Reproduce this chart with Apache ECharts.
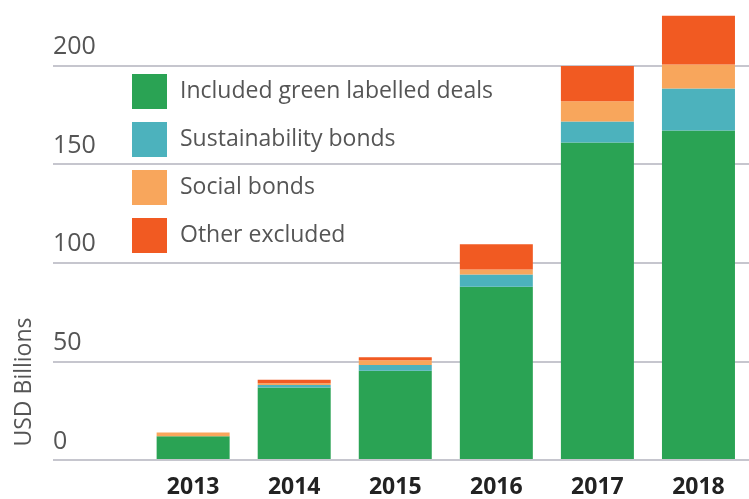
<!DOCTYPE html>
<html>
<head>
<meta charset="utf-8">
<script src="https://cdn.jsdelivr.net/npm/echarts@6/dist/echarts.min.js"></script>
<style>html,body{margin:0;padding:0;background:#fff}#c{width:749px;height:499px}</style>
</head>
<body>
<div id="c"></div>
<script>
var years = ['2013', '2014', '2015', '2016', '2017', '2018'];
var greenDeals = [11.5, 36.4, 44.8, 87.6, 160.9, 167.0];
var sustainability = [0, 1.2, 3.0, 6.2, 10.6, 21.3];
var social = [2.0, 0.9, 2.4, 2.5, 10.3, 12.2];
var otherExcluded = [0, 1.8, 1.5, 12.8, 18.0, 24.8];
var yTicks = [0, 50, 100, 150, 200];
var seriesNames = ['Included green labelled deals', 'Sustainability bonds', 'Social bonds', 'Other excluded'];
var colors = ['#2aa354', '#4cb2bd', '#f8a65c', '#f15a22'];

var chart = echarts.init(document.getElementById('c'));
var font = 'Open Sans';
var yMax = 233.3;
function mk(i, data) {
  return {
    name: seriesNames[i], type: 'bar', stack: 'total', data: data,
    xAxisIndex: 1, yAxisIndex: 1, barWidth: 73,
    itemStyle: { color: colors[i] }
  };
}
chart.setOption({
  animation: false,
  textStyle: { fontFamily: font },
  grid: [
    { left: 53, right: 0, top: 0, height: 460 },
    { left: 142.6, width: 611, top: 0, height: 460 }
  ],
  xAxis: [
    { type: 'value', gridIndex: 0, show: false },
    { type: 'category', gridIndex: 1, data: years,
      axisLine: { show: false }, axisTick: { show: false },
      axisLabel: { color: '#222', fontSize: 23, fontWeight: 'bold', fontFamily: font, margin: 17 } }
  ],
  yAxis: [
    { type: 'value', gridIndex: 0, min: 0, max: yMax, interval: 50,
      axisLine: { show: false }, axisTick: { show: false },
      splitLine: { showMaxLine: false, lineStyle: { color: '#c6c6ce', width: 2 } },
      axisLabel: { inside: true, margin: 0, align: 'left', verticalAlign: 'bottom', showMaxLabel: false,
        color: '#555', fontSize: 25, fontFamily: font, padding: [0, 0, 6, 0],
        formatter: function (v) { return yTicks.indexOf(v) >= 0 ? String(v) : ''; } } },
    { type: 'value', gridIndex: 1, min: 0, max: yMax, interval: 50, show: false, splitLine: { show: false } }
  ],
  legend: {
    orient: 'vertical', left: 132, top: 74, padding: 0, itemWidth: 35, itemHeight: 35, itemGap: 13,
    icon: 'rect', data: seriesNames,
    textStyle: { color: '#555', fontSize: 23, fontFamily: font, padding: [0, 0, 0, 8] }
  },
  graphic: [{
    type: 'text', x: 24, y: 382, rotation: Math.PI / 2,
    style: { text: 'USD Billions', fill: '#555', fontSize: 23, fontFamily: font, align: 'center', verticalAlign: 'middle' }
  }],
  series: [mk(0, greenDeals), mk(1, sustainability), mk(2, social), mk(3, otherExcluded)]
});
</script>
</body>
</html>
